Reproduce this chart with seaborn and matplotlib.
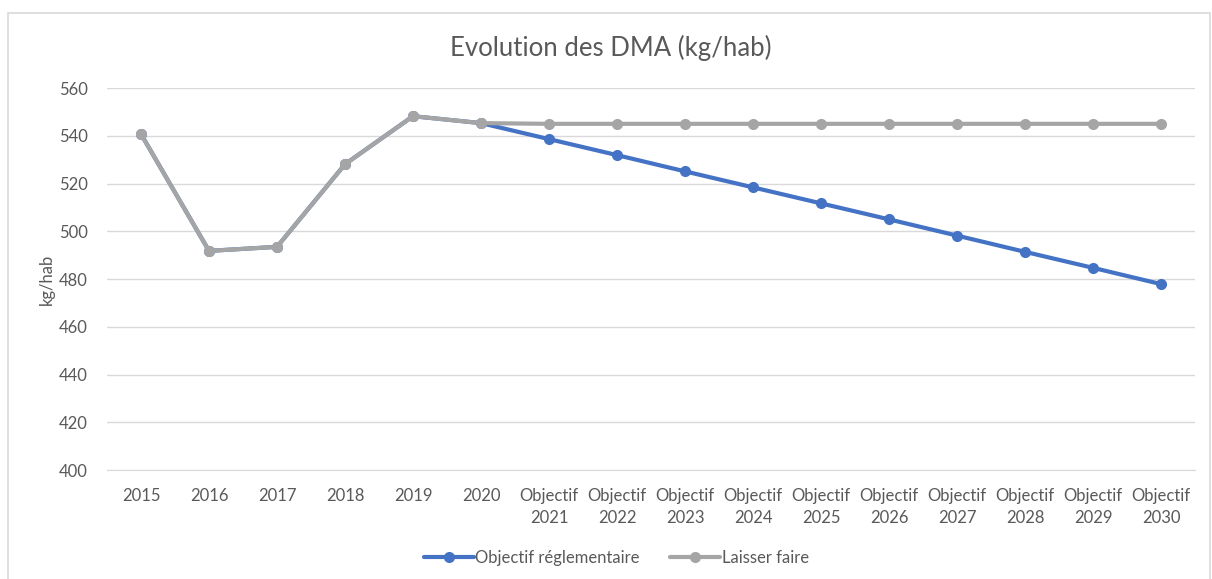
import matplotlib
matplotlib.use("Agg")
import matplotlib.pyplot as plt
from matplotlib.patches import Rectangle
import numpy as np
import pandas as pd
import seaborn as sns

# data
years = ["2015", "2016", "2017", "2018", "2019", "2020",
         "Objectif\n2021", "Objectif\n2022", "Objectif\n2023", "Objectif\n2024", "Objectif\n2025",
         "Objectif\n2026", "Objectif\n2027", "Objectif\n2028", "Objectif\n2029", "Objectif\n2030"]
objectif = [540.7, 491.8, 493.5, 528.1, 548.2, 545.3,
            538.6, 531.9, 525.1, 518.4, 511.7, 505.0, 498.2, 491.4, 484.7, 477.9]
laisser_faire = [540.7, 491.8, 493.5, 528.1, 548.2, 545.3,
                 545.0, 545.0, 545.0, 545.0, 545.0, 545.0, 545.0, 545.0, 545.0, 545.0]
series_names = ["Objectif réglementaire", "Laisser faire"]
colors = ["#4472C4", "#A5A5A5"]

df = pd.DataFrame({
    "x": list(range(len(years))) * 2,
    "y": objectif + laisser_faire,
    "serie": [series_names[0]] * len(years) + [series_names[1]] * len(years),
})

sns.set_style("white")
plt.rcParams["font.family"] = ["Lato", "DejaVu Sans"]

fig = plt.figure(figsize=(12.12, 5.79), dpi=100)
ax = fig.add_axes([0.0883, 0.188, 0.8977, 0.66])

sns.lineplot(data=df, x="x", y="y", hue="serie", palette=colors,
             marker="o", markersize=8, markeredgewidth=0, linewidth=3,
             sort=False, ax=ax)

ax.set_xlim(-0.5, len(years) - 0.5)
ax.set_ylim(400, 560)
ax.set_yticks(np.arange(400, 561, 20))
ax.set_xticks(range(len(years)))
ax.set_xticklabels(years, linespacing=1.45)
ax.tick_params(axis="both", length=0, labelsize=12, colors="#595959")
ax.tick_params(axis="x", pad=13)
ax.tick_params(axis="y", pad=14)
ax.yaxis.grid(True, color="#D9D9D9", linewidth=1)
ax.xaxis.grid(False)
for s in ax.spines.values():
    s.set_visible(False)
ax.spines["bottom"].set_visible(True)
ax.spines["bottom"].set_color("#D9D9D9")

ax.set_xlabel("")
ax.set_ylabel("kg/hab", fontsize=12, color="#595959", labelpad=3)
fig.text(0.504, 0.917, "Evolution des DMA (kg/hab)", ha="center", va="center",
         fontsize=18.5, color="#595959")

leg = ax.legend(loc="center", bbox_to_anchor=(0.468, -0.23), ncol=2, frameon=False,
                fontsize=12, handlelength=3.0, handletextpad=0.1, columnspacing=1.8)
for t in leg.get_texts():
    t.set_color("#595959")

fig.patches.append(Rectangle((8 / 1212, -0.05), 1202 / 1212, 1.05 - 13 / 579,
                             transform=fig.transFigure, fill=False,
                             edgecolor="#D9D9D9", linewidth=1.2))

fig.savefig("out.png", dpi=100, facecolor="white")
